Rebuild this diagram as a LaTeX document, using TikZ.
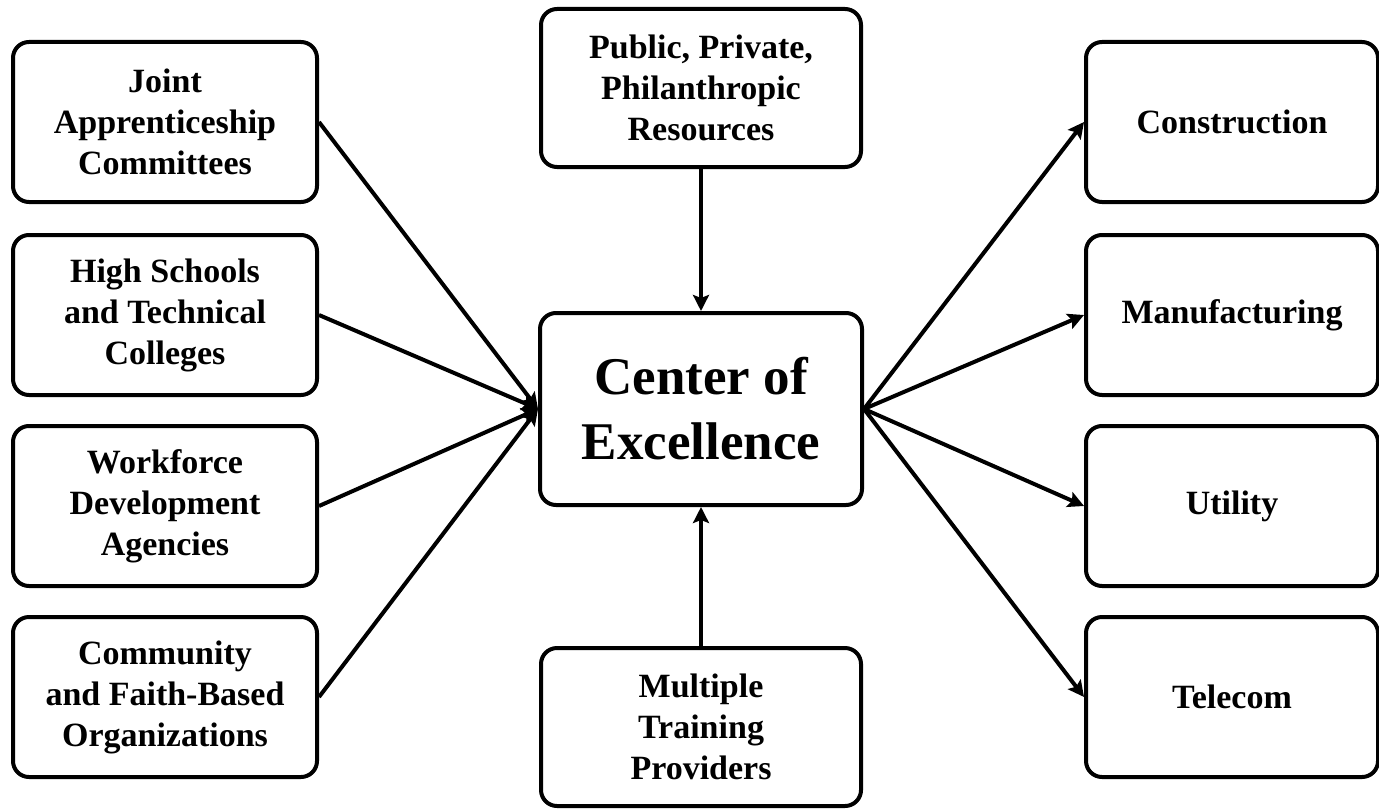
\documentclass[tikz,border=0pt]{standalone}
\usepackage{fontspec}
\setmainfont{Liberation Serif}
\usetikzlibrary{arrows.meta}
\begin{document}
\begin{tikzpicture}[x=0.5pt,y=-0.5pt,
  box/.style={draw, line width=2pt, rounded corners=8pt, align=center, inner sep=0pt,
    font=\fontsize{17}{20.5}\selectfont\bfseries},
  sidebox/.style={box, minimum width=152pt, minimum height=80pt},
  rbox/.style={box, minimum width=146pt, minimum height=80pt},
  midbox/.style={box, minimum width=160pt, minimum height=79pt},
  conn/.style={line width=2pt, -{Stealth[length=8pt,width=8pt,inset=1.5pt]}}]
\useasboundingbox (0,0) rectangle (1379,808);
\node[sidebox] (j) at (165,122) {Joint\\Apprenticeship\\Committees};
\node[sidebox] (h) at (165,315) {High Schools\\and Technical\\Colleges};
\node[sidebox] (w) at (165,506) {Workforce\\Development\\Agencies};
\node[sidebox] (f) at (165,697) {Community\\and Faith-Based\\Organizations};
\node[midbox] (p) at (701,88) {Public, Private,\\Philanthropic\\Resources};
\node[box, minimum width=161pt, minimum height=96pt, font=\fontsize{26.5}{32.5}\selectfont\bfseries] (c) at (701,409) {Center of\\Excellence};
\node[midbox] (m) at (701,727) {Multiple\\Training\\Providers};
\node[rbox] (r1) at (1232,122) {Construction};
\node[rbox] (r2) at (1232,315) {Manufacturing};
\node[rbox] (r3) at (1232,506) {Utility};
\node[rbox] (r4) at (1232,697) {Telecom};
\draw[conn] (j.east) -- (c.west);
\draw[conn] (h.east) -- (c.west);
\draw[conn] (w.east) -- (c.west);
\draw[conn] (f.east) -- (c.west);
\draw[conn] (p.south) -- (c.north);
\draw[conn] (m.north) -- (c.south);
\draw[conn] (c.east) -- (r1.west);
\draw[conn] (c.east) -- (r2.west);
\draw[conn] (c.east) -- (r3.west);
\draw[conn] (c.east) -- (r4.west);
\end{tikzpicture}
\end{document}
